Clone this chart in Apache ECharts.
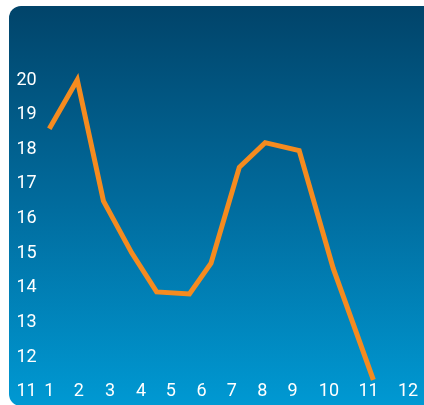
<!DOCTYPE html>
<html>
<head>
<meta charset="utf-8">
<script src="https://cdn.jsdelivr.net/npm/echarts@6/dist/echarts.min.js"></script>
<style>
  html, body { margin: 0; padding: 0; background: #ffffff; }
  #chart { width: 424px; height: 405px; }
</style>
</head>
<body>
<div id="chart"></div>
<script>
// Series: x positions along the month scale and the measured values
const xValues = [1, 1.92, 2.78, 3.71, 4.53, 5.61, 6.32, 7.25, 8.1, 9.22, 10.34, 11.66];
const yValues = [18.59, 20, 16.51, 15.01, 13.88, 13.82, 14.71, 17.48, 18.19, 17.96, 14.56, 11.34];

// Month tick labels and where they sit on the x scale
const xTickLabels = ['1', '2', '3', '4', '5', '6', '7', '8', '9', '10', '11', '12'];
const xTickValues = [1, 1.97, 3, 4.02, 5, 6.01, 7, 8.01, 9, 10.2, 11.5, 12.8];

// Value axis ticks
const yTicks = [11, 12, 13, 14, 15, 16, 17, 18, 19, 20];

const chart = echarts.init(document.getElementById('chart'), null, { renderer: 'canvas' });

const labelFont = { color: '#ffffff', fontFamily: 'Roboto', fontSize: 18 };

chart.setOption({
  backgroundColor: '#ffffff',
  animation: false,
  graphic: [{
    type: 'rect',
    z: -100,
    silent: true,
    shape: { x: 9, y: 6, width: 430, height: 400, r: 12 },
    style: {
      fill: new echarts.graphic.LinearGradient(0, 0, 0, 1, [
        { offset: 0, color: '#01446a' },
        { offset: 0.5, color: '#016c9e' },
        { offset: 1, color: '#0099d3' }
      ])
    }
  }],
  grid: { left: 44.74, right: 9.9, top: 80, bottom: 13.3, containLabel: false },
  xAxis: {
    type: 'value',
    min: 0.85,
    max: 13,
    axisLine: { show: false },
    axisTick: { show: false },
    splitLine: { show: false },
    axisLabel: Object.assign({}, labelFont, {
      customValues: xTickValues,
      margin: 0,
      verticalAlign: 'middle',
      formatter: function (v) {
        const i = xTickValues.indexOf(v);
        return i >= 0 ? xTickLabels[i] : '';
      }
    })
  },
  yAxis: {
    type: 'value',
    min: yTicks[0],
    max: yTicks[yTicks.length - 1],
    interval: 1,
    axisLine: { show: false },
    axisTick: { show: false },
    splitLine: { show: false },
    axisLabel: Object.assign({}, labelFont, { margin: 8 })
  },
  series: [{
    type: 'line',
    data: xValues.map((x, i) => [x, yValues[i]]),
    showSymbol: false,
    clip: false,
    lineStyle: { color: '#f58b1f', width: 5, join: 'miter' }
  }]
});
</script>
</body>
</html>
